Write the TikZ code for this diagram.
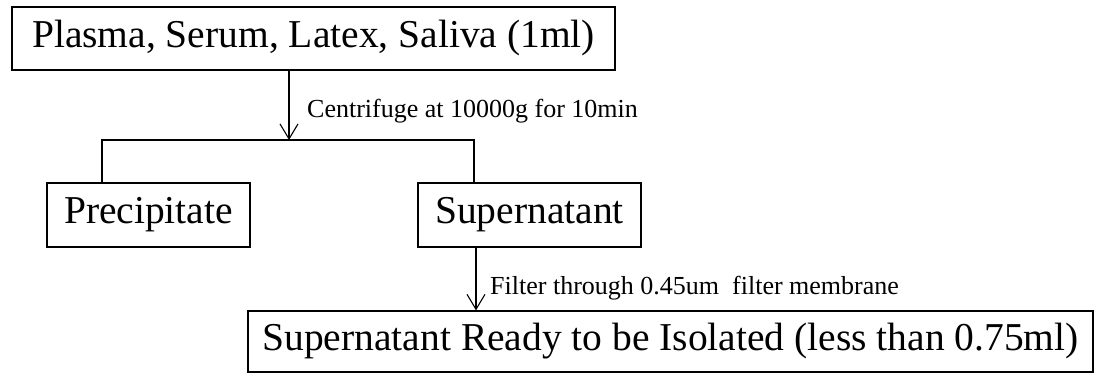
\documentclass[tikz,border=0pt]{standalone}
\usepackage{fontspec}
\setmainfont{Liberation Serif}
\usetikzlibrary{arrows.meta}
\begin{document}
\begin{tikzpicture}[x=1pt,y=1pt,
  boxnode/.style={draw=black, line width=1.2pt, inner sep=0pt, align=center,
    font=\fontsize{39.5}{42}\selectfont, text=black},
  labnode/.style={inner sep=0pt, anchor=west, font=\fontsize{26}{28}\selectfont, text=black},
  conn/.style={draw=black, line width=1.1pt},
  arr/.style={conn, -{Straight Barb[length=15pt,width=18pt,line width=1.1pt]}}]
\useasboundingbox[fill=white] (0,0) rectangle (1094,-374);
\node[boxnode, minimum width=603pt, minimum height=63pt] (top) at (313.5,-38.5) {Plasma, Serum, Latex, Saliva (1ml)};
\node[boxnode, minimum width=203pt, minimum height=64pt] (pre) at (148.5,-215) {Precipitate};
\node[boxnode, minimum width=223pt, minimum height=64pt] (sup) at (529.5,-215) {Supernatant};
\node[boxnode, minimum width=845pt, minimum height=61pt] (bot) at (670.5,-341.5) {Supernatant Ready to be Isolated (less than 0.75ml)};
\coordinate (j) at (289,-140);
\coordinate (jl) at (102,-140);
\coordinate (jr) at (474,-140);
\coordinate (a2) at (476,-280);
\draw[arr] (top.south -| j) -- (j);
\draw[conn] (jl |- pre.north) -- (jl) -- (jr) -- (jr |- sup.north);
\draw[arr] (sup.south -| a2) -- (bot.north -| a2);
\node[labnode] (lab1) at (307,-111) {Centrifuge at 10000g for 10min};
\node[labnode] (lab2) at (490,-288) {Filter through 0.45um\ \ filter membrane};
\end{tikzpicture}
\end{document}
